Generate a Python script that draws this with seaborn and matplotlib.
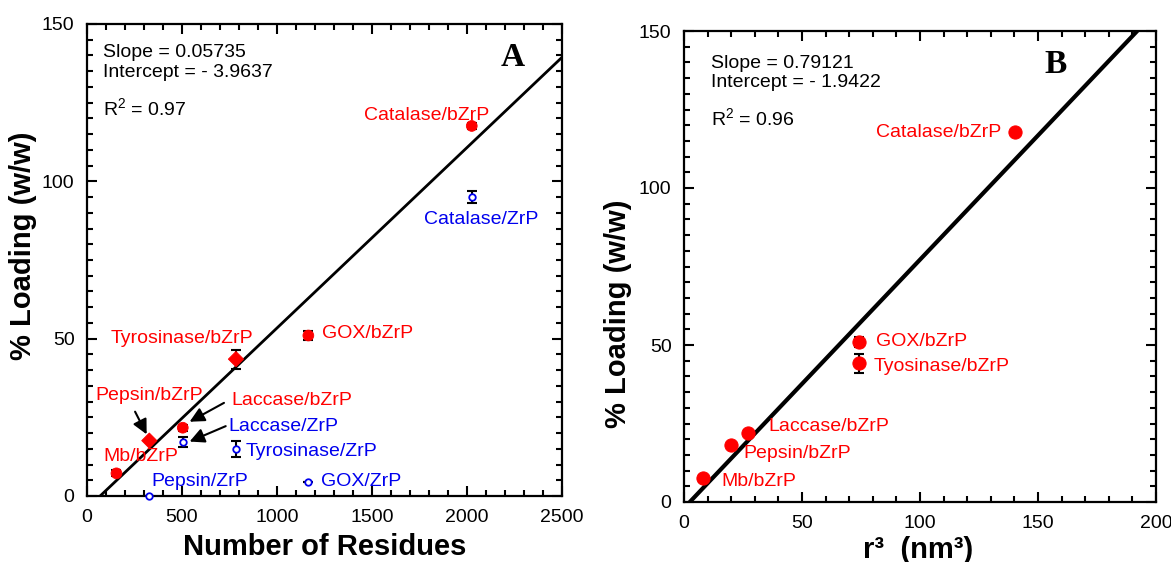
import matplotlib
matplotlib.use("Agg")
import matplotlib.pyplot as plt
import seaborn as sns
import pandas as pd
import numpy as np
from matplotlib.ticker import MultipleLocator

sns.set_style("ticks")
plt.rcParams['font.family'] = ['Liberation Sans', 'DejaVu Sans']
plt.rcParams['mathtext.fontset'] = 'custom'
plt.rcParams['mathtext.rm'] = 'Liberation Sans'
plt.rcParams['mathtext.it'] = 'Liberation Sans:italic'
plt.rcParams['mathtext.bf'] = 'Liberation Sans:bold'
plt.rcParams['text.color'] = 'black'
plt.rcParams['axes.labelcolor'] = 'black'
plt.rcParams['xtick.color'] = 'black'
plt.rcParams['ytick.color'] = 'black'

# ---------------- Panel A data ----------------
enzymes_a = ["Catalase", "GOX", "Tyrosinase", "Laccase", "Pepsin", "Mb"]
residues = [2025, 1165, 784, 504, 328, 155]
loading_bzrp = [117.6, 51.0, 43.5, 21.7, 17.6, 7.2]
err_bzrp = [1.0, 1.5, 3.0, 1.0, 0.0, 1.0]
shape_bzrp = ["circle", "circle", "diamond", "circle", "diamond", "circle"]
loading_zrp = [95.0, 4.5, 15.0, 17.2, 0.0]
err_zrp = [2.0, 0.0, 2.5, 1.5, 0.0]
residues_zrp = [2025, 1165, 784, 504, 328]
slope_a, intercept_a = 0.05735, -3.9637

# ---------------- Panel B data ----------------
enzymes_b = ["Catalase", "GOX", "Tyosinase", "Laccase", "Pepsin", "Mb"]
r3 = [140.3, 74.2, 74.2, 27.0, 19.8, 7.9]
loading_b = [117.7, 51.0, 44.2, 22.0, 18.0, 7.5]
err_b = [0.5, 1.5, 3.0, 1.0, 0.0, 1.0]
slope_b, intercept_b = 0.79121, -1.9422

RED = "#ff0000"
BLUE = "#0000ee"
FS = 14

fig = plt.figure(figsize=(11.71, 5.62), dpi=100)
axA = fig.add_axes([87/1171, 66/562, 475/1171, 472/562])
axB = fig.add_axes([684/1171, 60/562, 472/1171, 471/562])

def style_axis(ax, xmaj, xmin, ymaj, ymin):
    ax.xaxis.set_major_locator(MultipleLocator(xmaj))
    ax.xaxis.set_minor_locator(MultipleLocator(xmin))
    ax.yaxis.set_major_locator(MultipleLocator(ymaj))
    ax.yaxis.set_minor_locator(MultipleLocator(ymin))
    ax.tick_params(which='both', direction='in', top=True, right=True,
                   width=1.5, colors='black', labelsize=FS)
    ax.tick_params(which='major', length=7, pad=9)
    ax.tick_params(which='minor', length=4)
    for s in ax.spines.values():
        s.set_visible(True)
        s.set_linewidth(1.6)
        s.set_color('black')

# ---------------- Panel A ----------------
dfA = pd.DataFrame({"x": residues, "y": loading_bzrp, "shape": shape_bzrp})
dfZ = pd.DataFrame({"x": residues_zrp, "y": loading_zrp})

xfit_a = np.array([-intercept_a / slope_a, 2500])
sns.lineplot(x=xfit_a, y=slope_a * xfit_a + intercept_a, ax=axA, color='black', lw=2, zorder=2)
axA.errorbar(residues, loading_bzrp, yerr=err_bzrp, fmt='none', ecolor='black',
             elinewidth=1.5, capsize=3.5, capthick=1.5, zorder=3)
axA.errorbar(residues_zrp, loading_zrp, yerr=err_zrp, fmt='none', ecolor='black',
             elinewidth=1.5, capsize=3.5, capthick=1.5, zorder=3)
sns.scatterplot(data=dfA, x="x", y="y", style="shape", markers={"circle": "o", "diamond": "D"},
                color=RED, edgecolor=RED, s=60, ax=axA, legend=False, zorder=4)
sns.scatterplot(data=dfZ, x="x", y="y", marker='o', facecolor='white', edgecolor=BLUE,
                linewidth=1.3, s=22, ax=axA, legend=False, zorder=5, clip_on=False)

axA.set_xlim(0, 2500)
axA.set_ylim(0, 150)
style_axis(axA, 500, 100, 50, 5)
axA.set_xlabel("Number of Residues", fontsize=21, fontweight='bold')
axA.set_ylabel("% Loading (w/w)", fontsize=21, fontweight='bold')
axA.xaxis.set_label_coords(0.5, -0.078)
axA.yaxis.set_label_coords(-0.105, 0.53)

labels_a = [
    ("Catalase/bZrP", 1789, 121, 'center', RED),
    ("Catalase/ZrP", 1774, 88, 'left', BLUE),
    ("GOX/bZrP", 1237, 51.8, 'left', RED),
    ("Tyrosinase/bZrP", 125, 50.2, 'left', RED),
    ("Pepsin/bZrP", 46, 31.9, 'left', RED),
    ("Laccase/bZrP", 762, 30.5, 'left', RED),
    ("Laccase/ZrP", 742, 22.2, 'left', BLUE),
    ("Tyrosinase/ZrP", 835, 14.3, 'left', BLUE),
    ("Mb/bZrP", 84, 12.4, 'left', RED),
    ("Pepsin/ZrP", 337, 4.5, 'left', BLUE),
    ("GOX/ZrP", 1230, 4.5, 'left', BLUE),
]
for t, x, y, ha, c in labels_a:
    axA.text(x, y, t, color=c, fontsize=FS, ha=ha, va='center', zorder=6)

arrows_a = [((253, 26.8), (314, 19.6)), ((721, 29.6), (540, 23.6)), ((730, 22.2), (540, 17.3))]
for (x0, y0), (x1, y1) in arrows_a:
    axA.annotate("", xy=(x1, y1), xytext=(x0, y0),
                 arrowprops=dict(arrowstyle='-|>', color='black', lw=1.5, mutation_scale=22,
                                 shrinkA=0, shrinkB=0))

axA.text(0.034, 0.9386, "Slope = 0.05735", transform=axA.transAxes, fontsize=FS, va='center')
axA.text(0.034, 0.898, "Intercept = - 3.9637", transform=axA.transAxes, fontsize=FS, va='center')
axA.text(0.034, 0.822, "R$^2$ = 0.97", transform=axA.transAxes, fontsize=FS, va='center')
axA.text(0.897, 0.928, "A", transform=axA.transAxes, fontsize=24, fontweight='bold',
         family='Liberation Serif', ha='center', va='center')

# ---------------- Panel B ----------------
dfB = pd.DataFrame({"x": r3, "y": loading_b})
xfit_b = np.array([-intercept_b / slope_b, (150 - intercept_b) / slope_b])
sns.lineplot(x=xfit_b, y=slope_b * xfit_b + intercept_b, ax=axB, color='black', lw=3, zorder=2)
axB.errorbar(r3, loading_b, yerr=err_b, fmt='none', ecolor='black',
             elinewidth=1.5, capsize=3.5, capthick=1.5, zorder=3)
sns.scatterplot(data=dfB, x="x", y="y", marker='o', color=RED, edgecolor=RED, s=90,
                ax=axB, legend=False, zorder=4)
axB.set_xlim(0, 200)
axB.set_ylim(0, 150)
style_axis(axB, 50, 10, 50, 5)
axB.set_xlabel("r³  (nm³)", fontsize=21, fontweight='bold')
axB.set_ylabel("% Loading (w/w)", fontsize=21, fontweight='bold')
axB.xaxis.set_label_coords(0.496, -0.072)
axB.yaxis.set_label_coords(-0.11, 0.40)

labels_b = [
    ("Catalase/bZrP", 134.6, 117.8, 'right'),
    ("GOX/bZrP", 81.4, 51.0, 'left'),
    ("Tyosinase/bZrP", 80.5, 43.0, 'left'),
    ("Laccase/bZrP", 35.7, 24.2, 'left'),
    ("Pepsin/bZrP", 25.1, 15.5, 'left'),
    ("Mb/bZrP", 15.7, 6.5, 'left'),
]
for t, x, y, ha in labels_b:
    axB.text(x, y, t, color=RED, fontsize=FS, ha=ha, va='center', zorder=6)

axB.text(0.057, 0.932, "Slope = 0.79121", transform=axB.transAxes, fontsize=FS, va='center')
axB.text(0.057, 0.890, "Intercept = - 1.9422", transform=axB.transAxes, fontsize=FS, va='center')
axB.text(0.057, 0.815, "R$^2$ = 0.96", transform=axB.transAxes, fontsize=FS, va='center')
axB.text(0.788, 0.928, "B", transform=axB.transAxes, fontsize=24, fontweight='bold',
         family='Liberation Serif', ha='center', va='center')

fig.savefig("out.png", dpi=100)
